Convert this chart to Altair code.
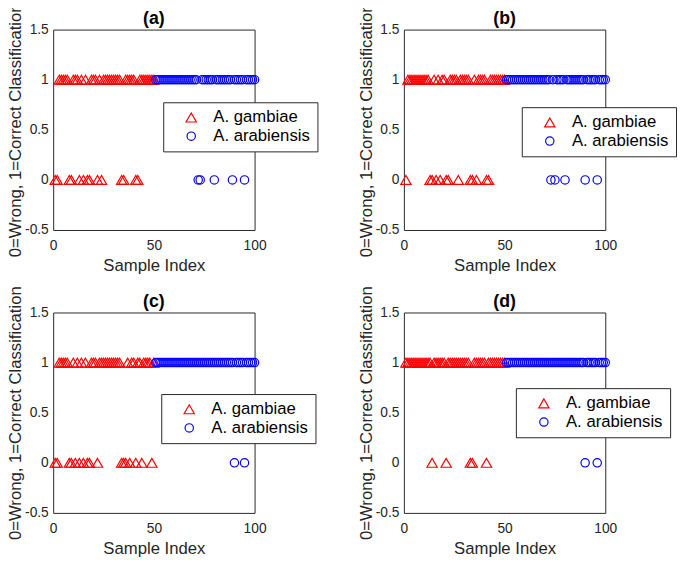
import altair as alt
import pandas as pd

panels = ["(a)", "(b)", "(c)", "(d)"]
species = ["A. gambiae", "A. arabiensis"]
gambiae_idx = list(range(1, 51))
arab_idx = list(range(51, 101))

gambiae_wrong = {
    "(a)": [1, 2, 8, 9, 13, 15, 17, 18, 22, 24, 34, 35, 41, 42],
    "(b)": [1, 13, 14, 16, 18, 21, 22, 27, 33, 34, 36, 41, 42],
    "(c)": [1, 2, 8, 9, 11, 13, 15, 17, 18, 22, 34, 35, 36, 38, 41, 44, 49],
    "(d)": [14, 21, 33, 34, 41],
}
arab_wrong = {
    "(a)": [72, 73, 80, 89, 95],
    "(b)": [73, 75, 80, 90, 96],
    "(c)": [90, 95],
    "(d)": [90, 96],
}
x_ticks = [0, 50, 100]
y_ticks = [-0.5, 0, 0.5, 1, 1.5]

legend_pos = {"(a)": (112, 74), "(b)": (120, 79), "(c)": (110, 83), "(d)": (114, 77)}

FONT = "Liberation Sans"
INK = "#262626"


def panel(name):
    rows = []
    for i in gambiae_idx:
        rows.append({"idx": i, "ok": 0 if i in gambiae_wrong[name] else 1, "species": species[0]})
    for i in arab_idx:
        rows.append({"idx": i, "ok": 0 if i in arab_wrong[name] else 1, "species": species[1]})
    df = pd.DataFrame(rows)
    lx, ly = legend_pos[name]
    leg = alt.Legend(title=None, orient="none", legendX=lx, legendY=ly)
    return (
        alt.Chart(df, title=alt.Title(name, fontSize=18, fontWeight="bold", font=FONT, color="#000000", offset=-26))
        .mark_point(filled=False, strokeWidth=1.2, opacity=1)
        .encode(
            x=alt.X("idx:Q", scale=alt.Scale(domain=[0, 100], nice=False),
                    axis=alt.Axis(values=x_ticks, title="Sample Index")),
            y=alt.Y("ok:Q", scale=alt.Scale(domain=[-0.5, 1.5], nice=False),
                    axis=alt.Axis(values=y_ticks, labelExpr="'' + datum.value",
                                  title="0=Wrong, 1=Correct Classification")),
            color=alt.Color("species:N", scale=alt.Scale(domain=species, range=["#ff0000", "#0000ff"]), legend=leg),
            shape=alt.Shape("species:N", scale=alt.Scale(domain=species, range=["triangle-up", "circle"]), legend=leg),
            size=alt.Size("species:N", scale=alt.Scale(domain=species, range=[110, 72]), legend=None),
        )
        .properties(width=205, height=204)
    )


chart = (
    alt.concat(*[panel(p) for p in panels], columns=2, spacing={"row": 84, "column": 152}, bounds="flush")
    .resolve_scale(color="independent", shape="independent", size="independent")
    .resolve_legend(color="independent", shape="independent")
    .properties(padding={"left": -2, "top": -11, "right": 0, "bottom": 0})
    .configure(font=FONT)
    .configure_view(stroke=INK, strokeWidth=1)
    .configure_axis(
        grid=False, ticks=False, domain=False, labelFlush=False,
        labelFont=FONT, labelFontSize=14, labelColor=INK,
        titleFont=FONT, titleFontSize=17, titleFontWeight="normal", titleColor=INK,
    )
    .configure_axisX(labelPadding=9, titlePadding=5)
    .configure_axisY(labelPadding=5, titlePadding=0)
    .configure_legend(
        labelFont=FONT, labelFontSize=17, labelColor="#000000",
        padding=7, symbolOffset=13, labelOffset=14, rowPadding=1,
        fillColor="white", strokeColor=INK, symbolStrokeWidth=1.2, symbolSize=90,
    )
)

chart.save("out.html", embed_options={"renderer": "svg", "actions": False})
